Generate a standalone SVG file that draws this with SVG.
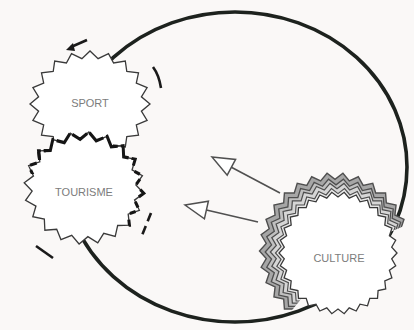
<svg xmlns="http://www.w3.org/2000/svg" width="414" height="330" viewBox="0 0 414 330">
<style>
.bg{fill:#faf8f7}
.star{fill:#fff;stroke:#3a3a3a;stroke-width:1.3;stroke-linejoin:miter}
.echo{stroke:#4f4f4f;stroke-width:1.1}
.heavy{fill:none;stroke:#151515;stroke-width:3}
.motion{fill:none;stroke:#1a1a1a;stroke-width:2.6}
.lbl{font-family:"Liberation Sans",Arial,sans-serif;font-size:11px;fill:#7c7c7c;text-anchor:middle}
.arrow{stroke:#505050;stroke-width:1.6;fill:none}
.head{fill:#fff;stroke:#505050;stroke-width:1.5;stroke-linejoin:miter}
.ring{fill:none;stroke:#1d221e;stroke-width:3.6}
</style>
<defs>
<polygon id="s20" points="60,0 51.4,7.2 57.1,16.4 46.3,20.9 48.5,31.2 36.8,32.5 35.3,42.9 23.6,41 18.5,50.4 8.1,45.4 0,53 -8.1,45.4 -18.5,50.4 -23.6,41 -35.3,42.9 -36.8,32.5 -48.5,31.2 -46.3,20.9 -57.1,16.4 -51.4,7.2 -60,0 -51.4,-7.2 -57.1,-16.4 -46.3,-20.9 -48.5,-31.2 -36.8,-32.5 -35.3,-42.9 -23.6,-41 -18.5,-50.4 -8.1,-45.4 0,-53 8.1,-45.4 18.5,-50.4 23.6,-41 35.3,-42.9 36.8,-32.5 48.5,-31.2 46.3,-20.9 57.1,-16.4 51.4,-7.2"/>
<polygon id="s30" points="59,0 53.7,5.9 57.7,12.7 51.4,17.3 53.9,24.8 46.8,28 47.7,35.9 40.1,37.5 39.5,45.3 31.8,45.3 29.5,52.8 22,51.2 18.2,58 11.2,54.8 6.2,60.7 0,56 -6.2,60.7 -11.2,54.8 -18.2,58 -22,51.2 -29.5,52.8 -31.8,45.3 -39.5,45.3 -40.1,37.5 -47.7,35.9 -46.8,28 -53.9,24.8 -51.4,17.3 -57.7,12.7 -53.7,5.9 -59,0 -53.7,-5.9 -57.7,-12.7 -51.4,-17.3 -53.9,-24.8 -46.8,-28 -47.7,-35.9 -40.1,-37.5 -39.5,-45.3 -31.8,-45.3 -29.5,-52.8 -22,-51.2 -18.2,-58 -11.2,-54.8 -6.2,-60.7 0,-56 6.2,-60.7 11.2,-54.8 18.2,-58 22,-51.2 29.5,-52.8 31.8,-45.3 39.5,-45.3 40.1,-37.5 47.7,-35.9 46.8,-28 53.9,-24.8 51.4,-17.3 57.7,-12.7 53.7,-5.9"/>
<clipPath id="cTop"><rect x="36" y="118" width="106" height="42"/></clipPath>
<clipPath id="cRight"><rect x="124" y="160" width="30" height="72"/></clipPath>
<clipPath id="cLeft"><rect x="20" y="140" width="26" height="34"/></clipPath>
<clipPath id="cEcho"><polygon points="338,253 272,335 225,335 225,140 414,140 414,222"/></clipPath>
</defs>
<rect class="bg" x="0" y="0" width="414" height="330"/>
<g id="ring"><ellipse class="ring" cx="235" cy="167" rx="172" ry="155"/></g>
<g id="connectors">
<line class="arrow" x1="231.4" y1="167.3" x2="280" y2="193"/>
<polygon class="head" points="212,157 235.6,159.4 227.2,175.2"/>
<line class="arrow" x1="206.4" y1="210" x2="258" y2="222"/>
<polygon class="head" points="185,205 208.4,201.2 204.4,218.8"/>
</g>
<g id="sport">
<use href="#s20" class="star" transform="translate(90,104)"/>
<text class="lbl" x="90" y="107">SPORT</text>
<path class="motion" d="M87,40 L71,47"/>
<path d="M73,43 L66,50 L75,51 Z" fill="#1a1a1a"/>
<path class="motion" d="M153,67 Q159,75 161,88"/>
</g>
<g id="tourisme">
<use href="#s20" class="star" transform="translate(84,188) rotate(5) scale(1,1.06)"/>
<g clip-path="url(#cTop)"><use href="#s20" class="heavy" stroke-dasharray="18 3" transform="translate(84,188) rotate(5) scale(1,1.06)"/></g>
<g clip-path="url(#cRight)"><use href="#s20" class="heavy" stroke-dasharray="6 7" transform="translate(84,188) rotate(5) scale(1,1.06)"/></g>
<g clip-path="url(#cLeft)"><use href="#s20" class="heavy" stroke-dasharray="7 6" transform="translate(84,188) rotate(5) scale(1,1.06)"/></g>
<text class="lbl" x="84" y="196">TOURISME</text>
<path class="motion" d="M36,246 L53,258"/>
<path class="motion" stroke-dasharray="9 5" d="M151,213 L141,238"/>
</g>
<g id="culture">
<g clip-path="url(#cEcho)">
<use href="#s30" class="echo" fill="#a6a6a6" transform="translate(335,251) scale(1.28)"/>
<use href="#s30" class="echo" fill="#c0c0c0" transform="translate(336,252) scale(1.2)"/>
<use href="#s30" class="echo" fill="#d6d6d6" transform="translate(337,252) scale(1.13)"/>
<use href="#s30" class="echo" fill="#e8e8e8" transform="translate(338,253) scale(1.06)"/>
</g>
<use href="#s30" class="star" transform="translate(338,253)"/>
<text class="lbl" x="339" y="262">CULTURE</text>
</g>
</svg>
